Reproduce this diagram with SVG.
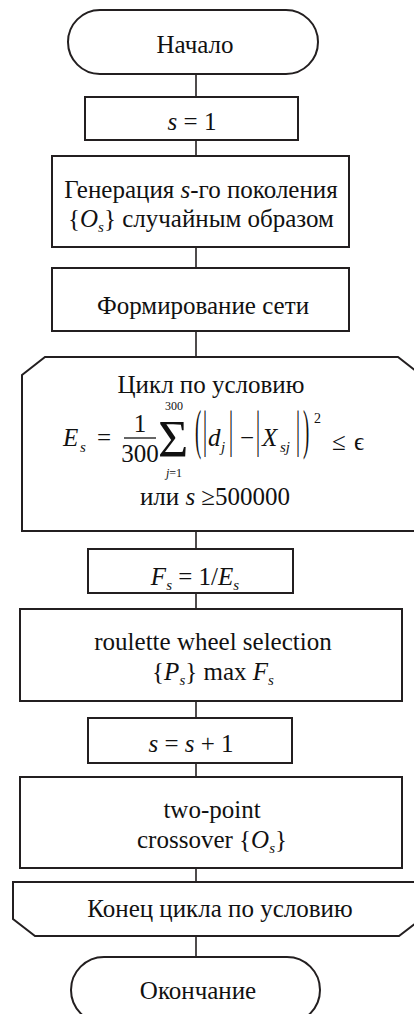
<svg xmlns="http://www.w3.org/2000/svg" width="414" height="1014" viewBox="0 0 414 1014" font-family="'Liberation Serif', 'Times New Roman', serif">
<style>
.sh{fill:#fff;stroke:#231f20;stroke-width:2}
.cn{stroke:#231f20;stroke-width:1.6;fill:none}
text{font-family:"Liberation Serif","Times New Roman",serif;font-size:25px;fill:#111}
.t{text-anchor:middle}
.i{font-style:italic}
.sb{font-size:15px;font-style:italic}
.sm{font-size:12px}
</style>
<rect width="414" height="1014" fill="#fff"/>
<g id="connectors">
<line class="cn" x1="196" y1="74" x2="196" y2="97"/>
<line class="cn" x1="196" y1="140" x2="196" y2="156"/>
<line class="cn" x1="196" y1="247" x2="196" y2="268"/>
<line class="cn" x1="196" y1="331" x2="196" y2="357"/>
<line class="cn" x1="196" y1="531" x2="196" y2="549"/>
<line class="cn" x1="196" y1="593" x2="196" y2="609"/>
<line class="cn" x1="196" y1="701" x2="196" y2="718"/>
<line class="cn" x1="196" y1="763" x2="196" y2="777"/>
<line class="cn" x1="196" y1="868" x2="196" y2="882"/>
<line class="cn" x1="196" y1="936" x2="196" y2="957"/>
</g>
<g id="start">
<rect class="sh" x="68" y="10" width="250" height="64" rx="32"/>
<text class="t" x="195" y="53">Начало</text>
</g>
<g id="init">
<rect class="sh" x="85" y="97" width="213" height="43"/>
<text class="t" x="192" y="130"><tspan class="i">s</tspan> = 1</text>
</g>
<g id="generate">
<rect class="sh" x="52" y="156" width="297" height="91"/>
<text class="t" x="201" y="198">Генерация <tspan class="i">s</tspan>-го поколения</text>
<text class="t" x="201" y="227">{<tspan class="i">O</tspan><tspan class="sb" dy="5">s</tspan><tspan dy="-5">} случайным образом</tspan></text>
</g>
<g id="network">
<rect class="sh" x="52" y="268" width="297" height="63"/>
<text class="t" x="203" y="314">Формирование сети</text>
</g>
<g id="loop-start">
<path class="sh" d="M22,375 L45,357 L398,357 L421,375 L421,531 L22,531 Z"/>
<text class="t" x="211" y="393">Цикл по условию</text>
<text class="i" x="63" y="446">E</text>
<text class="sb" x="80" y="452">s</text>
<text x="97" y="446">=</text>
<text class="t" x="140" y="432">1</text>
<line x1="124" y1="438" x2="156" y2="438" stroke="#111" stroke-width="1.3"/>
<text class="t" x="140" y="462">300</text>
<text x="158" y="457" style="font-size:52px">Σ</text>
<text class="t sm" x="174" y="410">300</text>
<text class="t sm" x="174" y="477"><tspan class="i">j</tspan>=1</text>
<text transform="translate(195,448) scale(0.75,2.2)">(</text>
<text transform="translate(203,446) scale(0.8,2)">|</text>
<text class="i" x="208" y="446">d</text>
<text class="sb" x="221" y="452">j</text>
<text transform="translate(229,446) scale(0.8,2)">|</text>
<text x="240" y="446">−</text>
<text transform="translate(256,446) scale(0.8,2)">|</text>
<text class="i" x="262" y="446">X</text>
<text class="sb" x="280" y="452">sj</text>
<text transform="translate(296,446) scale(0.8,2)">|</text>
<text transform="translate(303,448) scale(0.75,2.2)">)</text>
<text x="314" y="423" style="font-size:14px">2</text>
<text x="332" y="450">≤</text>
<text x="354" y="450">ϵ</text>
<text class="t" x="215" y="505">или <tspan class="i">s</tspan> ≥500000</text>
</g>
<g id="fitness">
<rect class="sh" x="88" y="549" width="205" height="44"/>
<text class="t" x="195" y="585"><tspan class="i">F</tspan><tspan class="sb" dy="5">s</tspan><tspan dy="-5"> = 1/</tspan><tspan class="i">E</tspan><tspan class="sb" dy="5">s</tspan></text>
</g>
<g id="selection">
<rect class="sh" x="20" y="609" width="382" height="92"/>
<text class="t" x="213" y="650">roulette wheel selection</text>
<text class="t" x="213" y="680">{<tspan class="i">P</tspan><tspan class="sb" dy="5">s</tspan><tspan dy="-5">} max </tspan><tspan class="i">F</tspan><tspan class="sb" dy="5">s</tspan></text>
</g>
<g id="increment">
<rect class="sh" x="88" y="718" width="204" height="45"/>
<text class="t" x="191" y="752"><tspan class="i">s</tspan> = <tspan class="i">s</tspan> + 1</text>
</g>
<g id="crossover">
<rect class="sh" x="20" y="777" width="382" height="91"/>
<text class="t" x="212" y="818">two-point</text>
<text class="t" x="212" y="848">crossover {<tspan class="i">O</tspan><tspan class="sb" dy="5">s</tspan><tspan dy="-5">}</tspan></text>
</g>
<g id="loop-end">
<path class="sh" d="M13,882 L421,882 L421,919 L399,936 L35,936 L13,919 Z"/>
<text class="t" x="220" y="917">Конец цикла по условию</text>
</g>
<g id="end">
<rect class="sh" x="71" y="957" width="249" height="66" rx="33"/>
<text class="t" x="198" y="999">Окончание</text>
</g>
</svg>
